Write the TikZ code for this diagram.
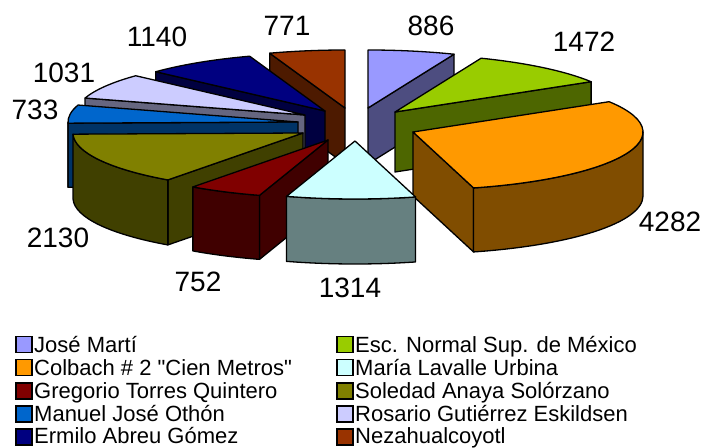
\documentclass[tikz,border=0pt]{standalone}
\usepackage{fontspec}
\setmainfont{Liberation Sans}
\newfontfamily\plainsans{Liberation Sans}
\usetikzlibrary{calc}
\definecolor{tA}{HTML}{9999FF}\definecolor{sA}{HTML}{4D4D80}
\definecolor{tB}{HTML}{99CC00}\definecolor{sB}{HTML}{4D6600}
\definecolor{tC}{HTML}{FF9900}\definecolor{sC}{HTML}{804D00}
\definecolor{tD}{HTML}{CCFFFF}\definecolor{sD}{HTML}{668080}
\definecolor{tE}{HTML}{800000}\definecolor{sE}{HTML}{400000}
\definecolor{tF}{HTML}{808000}\definecolor{sF}{HTML}{404000}
\definecolor{tG}{HTML}{0066CC}\definecolor{sG}{HTML}{003366}
\definecolor{tH}{HTML}{CCCCFF}\definecolor{sH}{HTML}{666680}
\definecolor{tI}{HTML}{000080}\definecolor{sI}{HTML}{000040}
\definecolor{tJ}{HTML}{993300}\definecolor{sJ}{HTML}{4D1A00}
% radial face: apex, angle, depth, colour
\newcommand\pieRad[4]{\filldraw[pface,fill=#4] (#1) -- ++({230*sin(#2)},{58*cos(#2)}) -- ++(0,-#3) -- ++({-230*sin(#2)},{-58*cos(#2)}) -- cycle;}
% outer face: apex, from, to, depth, colour
\newcommand\pieOut[5]{\filldraw[pface,fill=#5] ($(#1)+({230*sin(#2)},{58*cos(#2)})$) arc[start angle={90-#2}, end angle={90-#3}, x radius=230pt, y radius=58pt] -- ++(0,-#4) arc[start angle={90-#3}, end angle={90-#2}, x radius=230pt, y radius=58pt] -- cycle;}
% top face: apex, from, to, colour
\newcommand\pieTop[4]{\filldraw[pface,fill=#4] (#1) -- ++({230*sin(#2)},{58*cos(#2)}) arc[start angle={90-#2}, end angle={90-#3}, x radius=230pt, y radius=58pt] -- cycle;}
\begin{document}
\begin{tikzpicture}[x=1pt,y=1pt,
  pface/.style={draw=black,line width=1.3pt,line join=round},
  lbl/.style={inner sep=0pt,font=\fontsize{28}{30}\selectfont},
  legsq/.style={draw=black,line width=1.5pt,minimum size=16pt,inner sep=0pt},
  legtxt/.style={anchor=base west,inner sep=0pt,font=\plainsans\fontsize{22}{23}\selectfont}]
\useasboundingbox (0,0) rectangle (703,447);
% apexes of the exploded slices
\coordinate (A1) at (368,339);
\coordinate (A2) at (395,335);
\coordinate (A3) at (413,315);
\coordinate (A4) at (355,306);
\coordinate (A5) at (328,307);
\coordinate (A6) at (303,314);
\coordinate (A7) at (298,325);
\coordinate (A8) at (305,332);
\coordinate (A9) at (325,336);
\coordinate (A10) at (345,339);
% 771 Nezahualcoyotl
\pieRad{A10}{340.875}{56}{sJ}
\pieTop{A10}{340.875}{360}{tJ}
% 886 Jose Marti
\pieRad{A1}{21.981}{56}{sA}
\pieTop{A1}{0}{21.981}{tA}
% 1140 Ermilo
\pieRad{A9}{312.593}{58}{sI}
\pieTop{A9}{312.593}{340.875}{tI}
% 1472 Esc. Normal
\pieRad{A2}{58.5}{60}{sB}
\pieTop{A2}{21.981}{58.5}{tB}
% 1031 Rosario
\pieRad{A8}{287.015}{60}{sH}
\pieTop{A8}{287.015}{312.593}{tH}
% 733 Manuel
\pieRad{A7}{268.83}{64}{sG}
\pieOut{A7}{268.83}{270}{64}{sG}
\pieTop{A7}{268.83}{287.015}{tG}
% 4282 Colbach
\pieRad{A3}{164.732}{64}{sC}
\pieOut{A3}{90}{164.732}{64}{sC}
\pieTop{A3}{58.5}{164.732}{tC}
% 2130 Soledad
\pieRad{A6}{215.987}{65}{sF}
\pieOut{A6}{215.987}{268.83}{65}{sF}
\pieTop{A6}{215.987}{268.83}{tF}
% 752 Gregorio
\pieRad{A5}{197.331}{64}{sE}
\pieOut{A5}{197.331}{215.987}{64}{sE}
\pieTop{A5}{197.331}{215.987}{tE}
% 1314 Maria Lavalle
\pieOut{A4}{164.732}{197.331}{65}{sD}
\pieTop{A4}{164.732}{197.331}{tD}
% value labels
\node[lbl] (l886) at (431,421) {886};
\node[lbl] (l1472) at (584,405) {1472};
\node[lbl] (l4282) at (670,225) {4282};
\node[lbl] (l1314) at (350,159) {1314};
\node[lbl] (l752) at (198,165) {752};
\node[lbl] (l2130) at (58,209) {2130};
\node[lbl] (l733) at (35,337) {733};
\node[lbl] (l1031) at (64,374) {1031};
\node[lbl] (l1140) at (157,410) {1140};
\node[lbl] (l771) at (287,421) {771};
% legend
\node[legsq,fill=tA] (q1) at (24,102.5) {};
\node[legsq,fill=tC] (q2) at (24,79.5) {};
\node[legsq,fill=tE] (q3) at (24,56) {};
\node[legsq,fill=tG] (q4) at (24,33) {};
\node[legsq,fill=tI] (q5) at (24,10) {};
\node[legsq,fill=tB] (q6) at (345,102.5) {};
\node[legsq,fill=tD] (q7) at (345,79.5) {};
\node[legsq,fill=tF] (q8) at (345,56) {};
\node[legsq,fill=tH] (q9) at (345,33) {};
\node[legsq,fill=tJ] (q10) at (345,10) {};
\node[legtxt] (t1) at (34,95) {José Martí};
\node[legtxt] (t2) at (34,72) {Colbach \# 2 "Cien Metros"};
\node[legtxt] (t3) at (34,49) {Gregorio Torres Quintero};
\node[legtxt] (t4) at (34,26) {Manuel José Othón};
\node[legtxt] (t5) at (34,3.5) {Ermilo Abreu Gómez};
\node[legtxt] (t6) at (355,95) {Esc. Normal Sup. de México};
\node[legtxt] (t7) at (355,72) {María Lavalle Urbina};
\node[legtxt] (t8) at (355,49) {Soledad Anaya Solórzano};
\node[legtxt] (t9) at (355,26) {Rosario Gutiérrez Eskildsen};
\node[legtxt] (t10) at (355,3.5) {Nezahualcoyotl};
\end{tikzpicture}
\end{document}
